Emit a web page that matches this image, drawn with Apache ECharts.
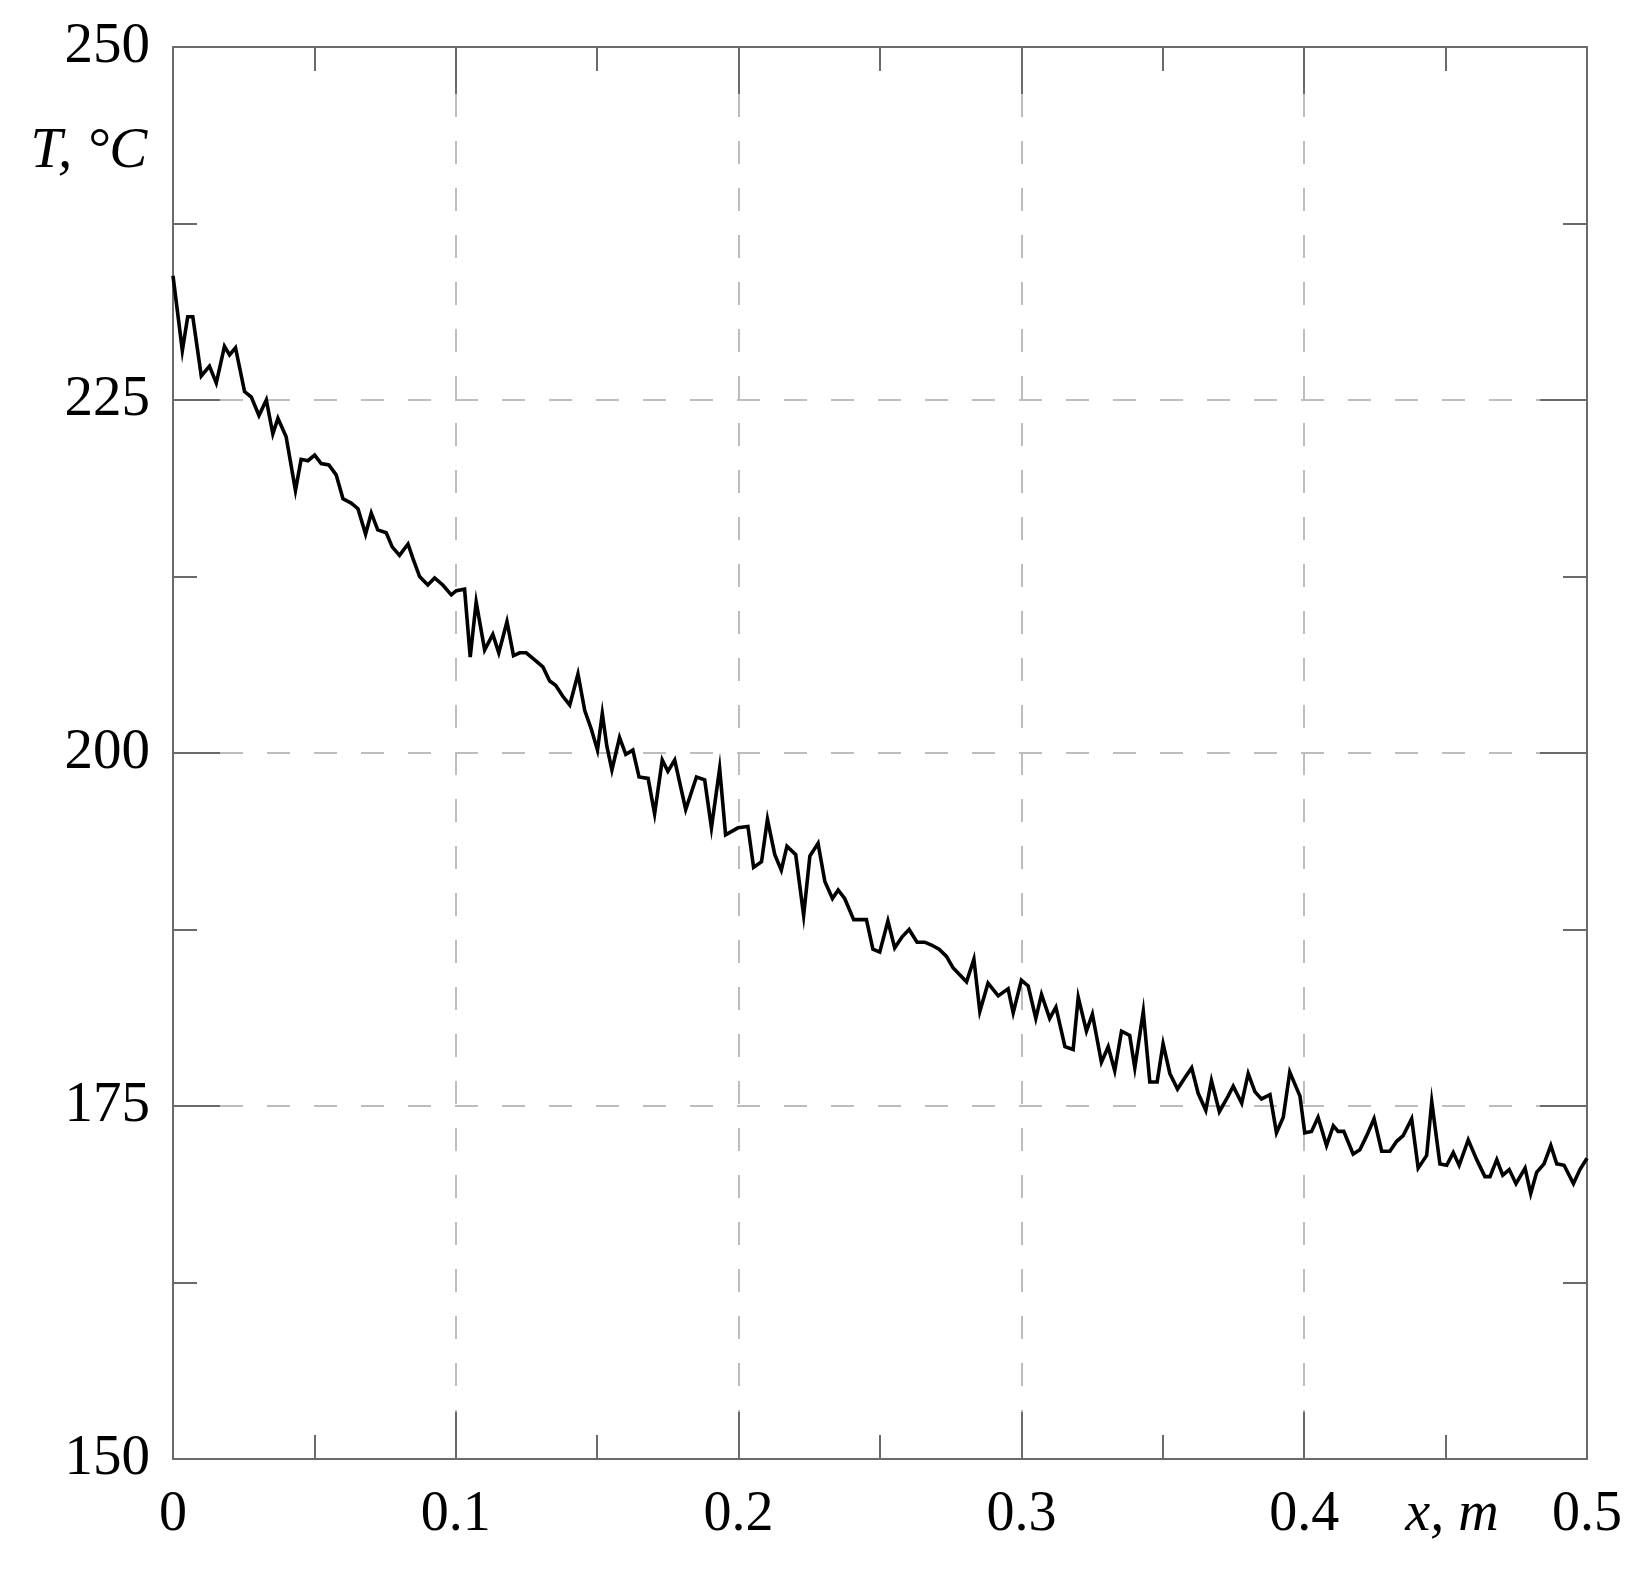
<!DOCTYPE html>
<html>
<head>
<meta charset="utf-8">
<script src="https://cdn.jsdelivr.net/npm/echarts@6/dist/echarts.min.js"></script>
<style>
html,body{margin:0;padding:0;background:#fff;}
#chart{width:1650px;height:1584px;}
</style>
</head>
<body>
<div id="chart"></div>
<script>
// Position x, m
const xs = [
0.0000,0.0033,0.0052,0.0070,0.0100,0.0129,0.0153,0.0182,0.0200,0.0221,
0.0253,0.0277,0.0304,0.0330,0.0353,0.0371,0.0400,0.0433,0.0453,0.0477,
0.0501,0.0524,0.0551,0.0577,0.0601,0.0630,0.0654,0.0681,0.0701,0.0724,
0.0754,0.0775,0.0801,0.0831,0.0848,0.0872,0.0901,0.0925,0.0954,0.0984,
0.1002,0.1031,0.1051,0.1072,0.1102,0.1131,0.1152,0.1181,0.1204,0.1226,
0.1249,0.1279,0.1308,0.1332,0.1353,0.1379,0.1403,0.1432,0.1456,0.1479,
0.1501,0.1518,0.1534,0.1552,0.1579,0.1601,0.1626,0.1648,0.1680,0.1703,
0.1730,0.1750,0.1774,0.1813,0.1851,0.1880,0.1904,0.1933,0.1954,0.1998,
0.2033,0.2053,0.2081,0.2102,0.2128,0.2151,0.2171,0.2202,0.2230,0.2252,
0.2281,0.2305,0.2332,0.2352,0.2375,0.2407,0.2431,0.2452,0.2475,0.2499,
0.2528,0.2552,0.2579,0.2603,0.2631,0.2658,0.2682,0.2709,0.2735,0.2758,
0.2782,0.2806,0.2832,0.2853,0.2882,0.2918,0.2953,0.2971,0.3000,0.3024,
0.3051,0.3071,0.3100,0.3122,0.3154,0.3183,0.3201,0.3230,0.3251,0.3283,
0.3307,0.3330,0.3354,0.3383,0.3401,0.3431,0.3454,0.3480,0.3501,0.3525,
0.3552,0.3578,0.3602,0.3625,0.3652,0.3672,0.3700,0.3731,0.3749,0.3779,
0.3802,0.3826,0.3849,0.3879,0.3902,0.3926,0.3949,0.3985,0.4002,0.4026,
0.4049,0.4079,0.4103,0.4120,0.4140,0.4173,0.4197,0.4221,0.4247,0.4274,
0.4303,0.4327,0.4350,0.4380,0.4403,0.4433,0.4451,0.4480,0.4504,0.4527,
0.4548,0.4580,0.4610,0.4639,0.4657,0.4681,0.4702,0.4725,0.4749,0.4781,
0.4801,0.4822,0.4848,0.4872,0.4893,0.4919,0.4952,0.4975,0.5000
];
// Temperature T, °C
const ts = [
233.8,228.5,230.9,230.9,226.7,227.4,226.2,228.8,228.2,228.7,
225.6,225.2,223.9,225.0,222.6,223.7,222.4,218.6,220.8,220.7,
221.1,220.5,220.4,219.7,218.0,217.7,217.3,215.5,217.0,215.8,
215.6,214.6,214.0,214.8,213.8,212.5,211.9,212.4,211.9,211.2,
211.5,211.6,206.8,210.7,207.3,208.4,207.1,209.3,206.9,207.1,
207.1,206.6,206.1,205.1,204.8,204.0,203.4,205.6,203.0,201.7,
200.2,202.8,200.5,198.8,201.1,199.9,200.2,198.3,198.2,195.7,
199.5,198.7,199.5,196.0,198.3,198.1,194.7,198.9,194.2,194.7,
194.8,191.9,192.3,195.3,192.8,191.7,193.4,192.8,188.5,192.7,
193.6,190.9,189.7,190.3,189.7,188.2,188.2,188.2,186.1,185.9,
188.1,186.2,187.0,187.5,186.6,186.6,186.4,186.1,185.6,184.8,
184.3,183.8,185.4,181.7,183.7,182.8,183.3,181.6,183.9,183.5,
181.2,182.9,181.2,182.0,179.2,179.0,182.7,180.3,181.5,178.1,
179.2,177.5,180.3,180.0,177.7,181.7,176.7,176.7,179.4,177.3,
176.2,177.0,177.7,175.9,174.7,176.8,174.6,175.7,176.4,175.2,
177.3,176.0,175.5,175.8,173.1,174.2,177.4,175.7,173.1,173.2,
174.2,172.2,173.6,173.2,173.2,171.6,171.9,172.9,174.1,171.8,
171.8,172.5,172.9,174.1,170.6,171.5,175.3,170.9,170.8,171.7,
170.8,172.6,171.2,170.0,170.0,171.2,170.1,170.5,169.5,170.6,
168.8,170.3,170.9,172.2,170.9,170.8,169.5,170.5,171.3
];
const xTicks = [0, 0.1, 0.2, 0.3, 0.4, 0.5];
const yTicks = [150, 175, 200, 225, 250];
const xName = 'x, m';
const yName = 'T, °C';

const serif = '"Liberation Serif", "Times New Roman", serif';
const axisGray = '#6a6a6a';
const chart = echarts.init(document.getElementById('chart'), null, {renderer: 'canvas'});
const data = xs.map((x, i) => [x, ts[i]]);

function xAxisCfg(pos, main) {
  return {
    type: 'value', position: pos,
    min: xTicks[0], max: xTicks[xTicks.length - 1], interval: xTicks[1] - xTicks[0],
    axisLine: {show: true, onZero: false, lineStyle: {color: axisGray, width: 2}},
    axisTick: {show: true, inside: true, length: 47, lineStyle: {color: axisGray, width: 2}},
    minorTick: {show: true, splitNumber: 2, length: 24, lineStyle: {color: axisGray, width: 2}},
    axisLabel: main ? {
      show: true, color: '#000', fontFamily: serif, fontSize: 56, margin: 28,
      formatter: v => String(+(+v).toFixed(1))
    } : {show: false},
    splitLine: main ? {show: true, lineStyle: {color: '#bdbdbd', width: 2, type: [23, 24]}} : {show: false}
  };
}
function yAxisCfg(pos, main) {
  return {
    type: 'value', position: pos,
    min: yTicks[0], max: yTicks[yTicks.length - 1], interval: yTicks[1] - yTicks[0],
    axisLine: {show: true, onZero: false, lineStyle: {color: axisGray, width: 2}},
    axisTick: {show: true, inside: true, length: 47, lineStyle: {color: axisGray, width: 2}},
    minorTick: {show: true, splitNumber: 2, length: 24, lineStyle: {color: axisGray, width: 2}},
    axisLabel: main ? {
      show: true, color: '#000', fontFamily: serif, fontSize: 57, margin: 23
    } : {show: false},
    splitLine: main ? {show: true, lineStyle: {color: '#bdbdbd', width: 2, type: [23, 24]}} : {show: false}
  };
}

chart.setOption({
  animation: false,
  backgroundColor: '#fff',
  grid: {left: 173, top: 47, width: 1414, height: 1412, containLabel: false},
  xAxis: [xAxisCfg('bottom', true), xAxisCfg('top', false)],
  yAxis: [yAxisCfg('left', true), yAxisCfg('right', false)],
  graphic: [
    {type: 'text', x: 1452, y: 1515, style: {text: xName, font: 'italic 56px ' + serif, fill: '#000', textAlign: 'center', textVerticalAlign: 'middle'}},
    {type: 'text', x: 89, y: 152, style: {text: yName, font: 'italic 57px ' + serif, fill: '#000', textAlign: 'center', textVerticalAlign: 'middle'}}
  ],
  series: [{
    type: 'line', xAxisIndex: 0, yAxisIndex: 0,
    data: data, showSymbol: false, symbol: 'none',
    lineStyle: {color: '#000', width: 3.6, join: 'miter'},
    z: 5
  }]
});
</script>
</body>
</html>
